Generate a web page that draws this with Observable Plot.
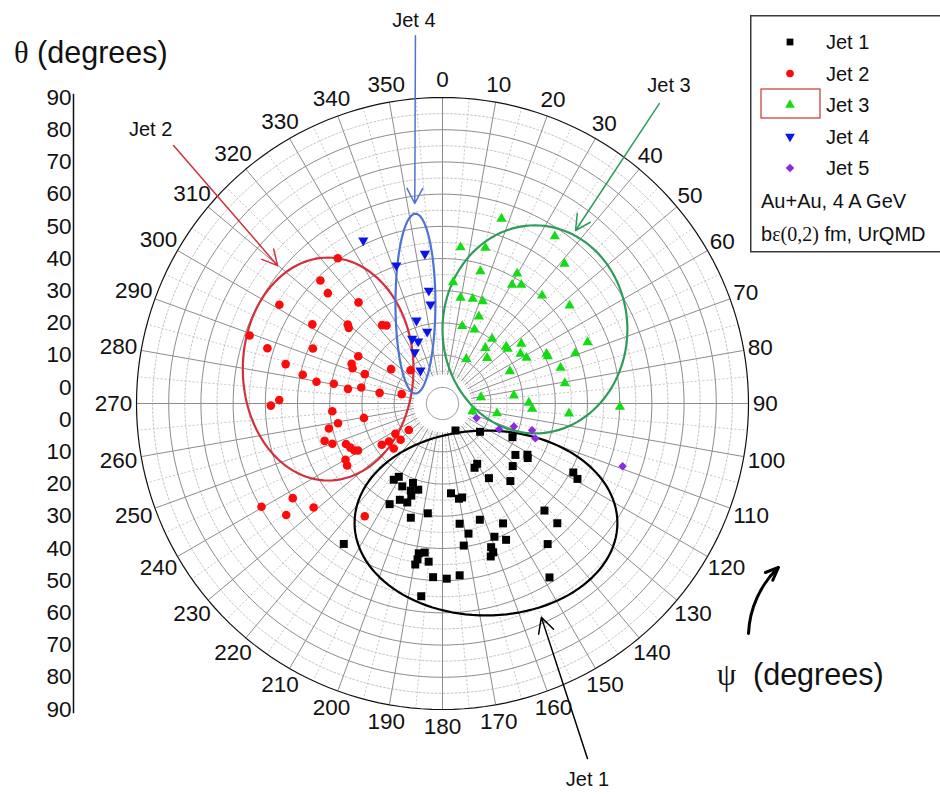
<!DOCTYPE html>
<html><head><meta charset="utf-8">
<script src="https://cdn.jsdelivr.net/npm/d3@7"></script>
<script src="https://cdn.jsdelivr.net/npm/@observablehq/plot@0.6"></script>
<style>
body{margin:0;background:#fff;overflow:hidden}
#wrap{position:relative;width:940px;height:794px;font-family:"Liberation Sans",Arial,sans-serif;background:#fff}
.title{position:absolute;font-size:30.5px;line-height:1;white-space:nowrap;color:#111}
.sym{font-family:"Liberation Serif","Times New Roman",serif}
</style></head><body><div id="wrap">
<div class="title" style="left:14px;top:37px"><span class="sym">θ</span> (degrees)</div>
<div class="title" style="left:717px;top:659px"><span class="sym">ψ</span>&nbsp; (degrees)</div>
</div>
<script>
// ---------- data (psi = azimuth in degrees, theta = polar angle in degrees) ----------
const jetNames = ["Jet 1", "Jet 2", "Jet 3", "Jet 4", "Jet 5"];

const jet1Psi = [154.3,127.0,115.7,125.2,121.1,122.6,150.1,153.5,131.7,148.1,138.8,210.8,212.6,200.4,205.9,195.7,200.0,198.7,203.9,199.6,207.7,174.6,170.2,168.2,187.6,195.5,162.2,153.2,171.9,168.7,158.7,155.0,171.5,161.3,161.2,162.5,215.1,189.0,186.8,189.1,185.0,189.6,183.1,178.6,174.3,186.3,117.8,119.2,136.4,136.2,143.2,148.4];
const jet1Theta = [4.3,9.6,19.1,22.7,25.8,26.4,16.6,17.3,24.2,22.3,27.0,21.5,23.1,21.3,23.6,22.8,23.8,25.2,27.7,27.6,30.3,23.0,25.0,24.8,29.4,31.8,32.9,36.7,32.7,36.2,39.4,41.7,39.6,42.1,43.8,44.8,48.3,42.1,41.6,44.0,44.3,45.7,49.0,49.4,48.6,55.2,40.9,43.0,40.9,46.5,49.5,58.4];

const jet2Psi = [324.2,315.2,313.9,301.2,320.3,301.3,309.8,308.9,322.4,324.3,289.4,287.5,293.0,299.3,284.1,293.6,291.4,303.8,316.1,281.6,290.7,279.8,280.3,278.8,281.1,279.6,282.9,271.2,269.3,266.0,259.6,259.3,257.6,231.8,237.2,229.2,252.4,249.9,247.2,244.4,241.9,240.9,235.8,234.6,227.3,239.9,237.0,237.7,240.3,231.1,234.5,214.6];
const jet2Theta = [50.6,48.8,44.4,54.2,35.8,42.3,33.3,32.4,25.7,24.8,58.5,52.0,38.7,25.0,45.2,25.8,25.0,14.2,9.3,39.3,20.8,34.7,29.3,24.7,20.7,14.8,8.0,45.7,48.3,29.3,19.8,28.0,31.1,8.3,12.4,12.2,33.4,31.4,27.5,26.7,26.0,25.0,17.8,15.4,15.6,29.8,30.3,50.0,59.7,46.4,54.6,37.5];

const jet3Psi = [17.7,33.9,6.6,15.4,41.1,16.0,29.9,5.0,30.4,33.6,42.7,9.7,16.1,21.5,52.4,22.7,14.3,23.4,37.5,67.1,52.8,48.2,37.7,50.0,69.3,57.5,64.5,65.9,28.2,44.4,61.5,73.2,64.4,80.6,83.6,80.7,89.5,93.4,91.1,100.2,94.5,104.4];
const jet3Theta = [55.2,57.5,43.8,45.1,52.6,37.7,41.5,32.8,37.7,39.2,40.6,28.3,28.8,29.1,44.8,24.3,19.8,20.0,20.3,43.9,25.7,21.5,16.8,21.4,39.1,23.7,30.8,30.8,10.7,14.8,24.7,33.3,18.2,33.5,17.3,7.1,21.8,22.9,50.1,12.2,34.4,4.6];

const jet4Psi = [334.1,353.3,341.5,353.1,353.1,342.6,348.0,334.9,338.6,331.6,326.3];
const jet4Theta = [51.3,41.8,40.2,30.3,26.0,22.0,17.8,17.2,15.7,13.1,7.3];

const jet5Psi = [113.1,114.4,107.9,106.6,110.6,109.2];
const jet5Theta = [6.5,14.3,18.3,24.0,25.8,54.2];

const psiTicks = d3.range(0, 360, 10);            // azimuth tick labels
const thetaTicks = d3.range(0, 91, 10);           // 0 ... 90
const legendNotes = ["Au+Au, 4 A GeV", "UrQMD"];

// cluster ellipses & annotation arrows (in the chart's cartesian units)
const jetEllipses = [
  {name: "Jet 1", cx: 13.5, cy: -37.1, rx: 40.8, ry: 28.7},
  {name: "Jet 2", cx: -35.5, cy: 10.7, rx: 26.5, ry: 34.6},
  {name: "Jet 3", cx: 28.7, cy: 23.0, rx: 28.7, ry: 32.3},
  {name: "Jet 4", cx: -8.4, cy: 31.0, rx: 6.2, ry: 27.9}
];
const annoArrows = [
  {name: "Jet 1", x1: 45.0, y1: -110.2, x2: 30.7, y2: -66.4},
  {name: "Jet 2", x1: -83.5, y1: 80.1, x2: -51.2, y2: 42.8},
  {name: "Jet 3", x1: 67.3, y1: 93.1, x2: 41.3, y2: 53.7},
  {name: "Jet 4", x1: -8.4, y1: 114.2, x2: -8.6, y2: 62.1}
];
const annoLabels = [
  {name: "Jet 1", x: 45.0, y: -116.9},
  {name: "Jet 2", x: -90.6, y: 84.9},
  {name: "Jet 3", x: 70.3, y: 98.7},
  {name: "Jet 4", x: -8.9, y: 119.0}
];
const psiArrow = [{x1: 95.0, y1: -71.4, x2: 104.3, y2: -50.9}];

// ---------- styles & geometry ----------
const CX = 442, CY = 403, R = 306;     // pixel centre & outer radius
const HOLE = 5;                        // radial offset of theta = 0 (central hole)
const RMAX = 90 + HOLE;
const U = R / RMAX;                    // px per unit
const colors = {"Jet 1": "#000000", "Jet 2": "#ff0a0a", "Jet 3": "#14dc14", "Jet 4": "#0a16e8", "Jet 5": "#8a2be2"};
const lineColors = {"Jet 1": "#000000", "Jet 2": "#d1303c", "Jet 3": "#2f9b5b", "Jet 4": "#4f73d3"};

const rad = d => d * Math.PI / 180;
const X = (psi, rho) => rho * Math.sin(rad(psi));
const Y = (psi, rho) => rho * Math.cos(rad(psi));

const table = (ps, ts) => ps.map((p, i) => ({psi: p, theta: ts[i]}));
const jets = [table(jet1Psi, jet1Theta), table(jet2Psi, jet2Theta), table(jet3Psi, jet3Theta), table(jet4Psi, jet4Theta), table(jet5Psi, jet5Theta)];

// grid geometry
const ringTs = d3.range(0, 91, 5);
const ringPts = ringTs.flatMap(t => d3.range(0, 361, 2).map(a => ({t, x: X(a, t + HOLE), y: Y(a, t + HOLE)})));
const spokes = d3.range(0, 360, 5).map(a => ({a, x1: X(a, 4 + HOLE), y1: Y(a, 4 + HOLE), x2: X(a, RMAX), y2: Y(a, RMAX)}));
const ellPts = jetEllipses.flatMap(e => d3.range(0, 361, 3).map(a => ({name: e.name, x: e.cx + e.rx * Math.cos(rad(a)), y: e.cy + e.ry * Math.sin(rad(a))})));

const labelRho = v => {
  const a = rad(v), w = 12.7 * String(v).length;
  return (310 + Math.hypot(w / 2 * Math.sin(a), 13.5 * Math.cos(a))) / U;
};

const triangleDown = {draw(ctx, size) {
  const y = -Math.sqrt(size / (Math.sqrt(3) * 3));
  ctx.moveTo(0, -2 * y); ctx.lineTo(-Math.sqrt(3) * y, y); ctx.lineTo(Math.sqrt(3) * y, y); ctx.closePath();
}};
const symbols = ["square", "circle", "triangle", triangleDown, "diamond2"];
const sizes = [4.5, 4.3, 3.8, 3.8, 3.8];

const yTicks = [...thetaTicks.map(t => -(t + HOLE)), ...thetaTicks.map(t => t + HOLE)];

const marks = [
  Plot.line(ringPts.filter(d => d.t % 10 === 5), {x: "x", y: "y", z: "t", stroke: "#c6c6c6", strokeWidth: 1, strokeDasharray: "2,2"}),
  Plot.link(spokes.filter(d => d.a % 10 === 5), {x1: "x1", y1: "y1", x2: "x2", y2: "y2", stroke: "#c6c6c6", strokeWidth: 1, strokeDasharray: "2,2"}),
  Plot.line(ringPts.filter(d => d.t % 10 === 0 && d.t < 90), {x: "x", y: "y", z: "t", stroke: "#8c8c8c", strokeWidth: 1}),
  Plot.link(spokes.filter(d => d.a % 10 === 0), {x1: "x1", y1: "y1", x2: "x2", y2: "y2", stroke: "#8c8c8c", strokeWidth: 1}),
  Plot.line(ringPts.filter(d => d.t === 90), {x: "x", y: "y", stroke: "#111", strokeWidth: 1.2}),
  ...jetEllipses.map(e => Plot.line(ellPts.filter(d => d.name === e.name), {x: "x", y: "y", stroke: lineColors[e.name], strokeWidth: 2.2})),
  ...jets.map((data, i) => Plot.dot(data, {x: d => X(d.psi, d.theta + HOLE), y: d => Y(d.psi, d.theta + HOLE), symbol: symbols[i], r: sizes[i], fill: colors[jetNames[i]], stroke: "none"})),
  ...annoArrows.map(a => Plot.arrow([a], {x1: "x1", y1: "y1", x2: "x2", y2: "y2", stroke: lineColors[a.name], strokeWidth: 1.5, headLength: 17, headAngle: 55})),
  Plot.arrow(psiArrow, {x1: "x1", y1: "y1", x2: "x2", y2: "y2", bend: 22, stroke: "#000", strokeWidth: 3, headLength: 7, headAngle: 45}),
  Plot.text(annoLabels, {x: "x", y: "y", text: "name", fontSize: 20, fill: "#111", lineAnchor: "middle"}),
  Plot.text(psiTicks, {x: d => X(d, labelRho(d)), y: d => Y(d, labelRho(d)), text: d => String(d), fontSize: 22.5, fill: "#111", lineAnchor: "middle"}),
  Plot.axisY({ticks: yTicks, tickFormat: d => String(Math.abs(d) - HOLE), tickSize: 0, tickPadding: 2, fontSize: 22.5, label: null, anchor: "left", color: "#111"}),
  Plot.frame({anchor: "left", stroke: "#111", strokeWidth: 1.5})
];

const chart = Plot.plot({
  width: 940, height: 794,
  marginLeft: 73, marginTop: 94, marginBottom: 82, marginRight: 0,
  x: {domain: [-RMAX, RMAX], range: [CX - R, CX + R], axis: null},
  y: {domain: [-RMAX, RMAX], range: [CY + R, CY - R], axis: null},
  style: {fontFamily: '"Liberation Sans", Arial, sans-serif', background: "white", overflow: "visible"},
  marks
});
const wrap = document.getElementById("wrap");
wrap.prepend(chart);
chart.style.position = "absolute"; chart.style.left = "0px"; chart.style.top = "0px";

// ---------- legend ----------
const leg = d3.create("svg").attr("width", 200).attr("height", 240)
  .style("position", "absolute").style("left", "750px").style("top", "15px")
  .style("font-family", '"Liberation Sans", Arial, sans-serif');
leg.append("rect").attr("x", 0.75).attr("y", 0.75).attr("width", 230).attr("height", 236)
  .attr("fill", "#fff").attr("stroke", "#3a3a3a").attr("stroke-width", 1.5);
const legSym = [d3.symbolSquare, d3.symbolCircle, d3.symbolTriangle, triangleDown, d3.symbolDiamond2];
const legSize = [46, 46, 42, 42, 48];
jetNames.forEach((name, i) => {
  const y = 27 + i * 31.5;
  leg.append("path").attr("d", d3.symbol(legSym[i], legSize[i])()).attr("transform", `translate(40,${y})`).attr("fill", colors[name]);
  leg.append("text").attr("x", 76).attr("y", y + 7.2).attr("font-size", 20).attr("fill", "#111").text(name);
});
leg.append("rect").attr("x", 11).attr("y", 74).attr("width", 59).attr("height", 29).attr("fill", "none").attr("stroke", "#d03030").attr("stroke-width", 1.2);
leg.append("text").attr("x", 11).attr("y", 193).attr("font-size", 20).attr("fill", "#111").text(legendNotes[0]);
const t2 = leg.append("text").attr("x", 11).attr("y", 226).attr("font-size", 20).attr("fill", "#111");
t2.append("tspan").text("b");
t2.append("tspan").attr("font-family", '"Liberation Serif", "Times New Roman", serif').text("ε(0,2)");
t2.append("tspan").text(" fm, " + legendNotes[1]);
wrap.append(leg.node());
</script>
</body></html>
